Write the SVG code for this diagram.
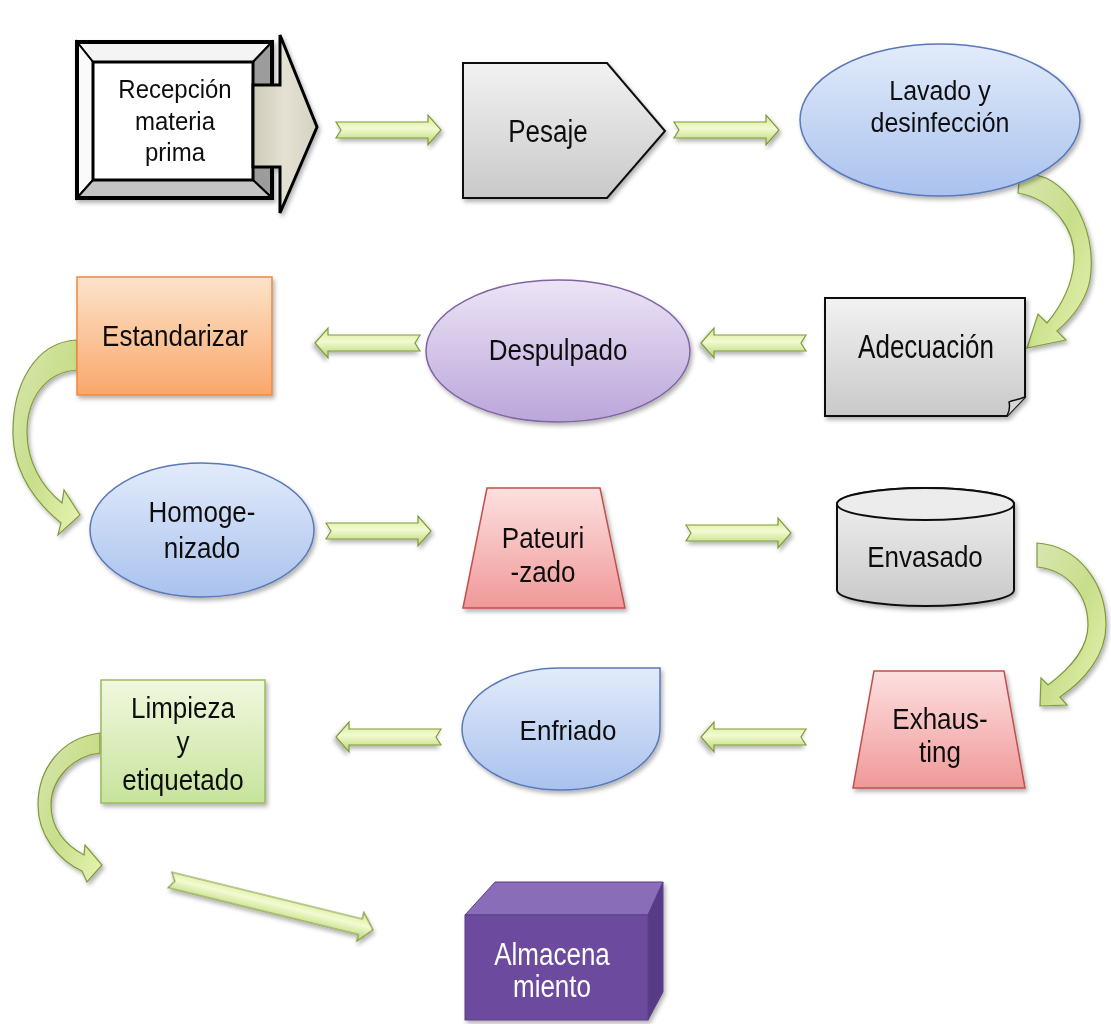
<svg xmlns="http://www.w3.org/2000/svg" width="1111" height="1024" viewBox="0 0 1111 1024">
<defs>
<style>
text{font-family:"Liberation Sans",Arial,sans-serif;font-size:26px;fill:#111;text-anchor:middle}
.ar{fill:url(#gArr);stroke:#7f9a3c;stroke-width:1.2;filter:url(#sh)}
.car{fill:url(#gCurve);stroke:#7f9a3c;stroke-width:1.2;filter:url(#sh)}
.nd{filter:url(#sh)}
</style>
<linearGradient id="gArr" x1="0" y1="0" x2="0" y2="1"><stop offset="0" stop-color="#d4ea8c"/><stop offset="0.45" stop-color="#f2fad2"/><stop offset="1" stop-color="#b7d56a"/></linearGradient>
<linearGradient id="gCurve" x1="0" y1="0" x2="1" y2="1"><stop offset="0" stop-color="#d8e6b0"/><stop offset="0.5" stop-color="#c8de8a"/><stop offset="1" stop-color="#e6f4b2"/></linearGradient>
<linearGradient id="gGray" x1="0" y1="0" x2="0" y2="1"><stop offset="0" stop-color="#f2f2f2"/><stop offset="1" stop-color="#c9c9c9"/></linearGradient>
<linearGradient id="gBlue" x1="0" y1="0" x2="0" y2="1"><stop offset="0" stop-color="#e2ebfa"/><stop offset="1" stop-color="#a9c2ee"/></linearGradient>
<linearGradient id="gPurple" x1="0" y1="0" x2="0" y2="1"><stop offset="0" stop-color="#ece4f6"/><stop offset="1" stop-color="#bba6da"/></linearGradient>
<linearGradient id="gOrange" x1="0" y1="0" x2="0" y2="1"><stop offset="0" stop-color="#fde3ca"/><stop offset="1" stop-color="#f9a76b"/></linearGradient>
<linearGradient id="gPink" x1="0" y1="0" x2="0" y2="1"><stop offset="0" stop-color="#fde0e0"/><stop offset="1" stop-color="#f09898"/></linearGradient>
<linearGradient id="gGreen" x1="0" y1="0" x2="0" y2="1"><stop offset="0" stop-color="#f1f8de"/><stop offset="1" stop-color="#c7e39c"/></linearGradient>
<linearGradient id="gBeige" x1="0" y1="0" x2="1" y2="0"><stop offset="0" stop-color="#cfcbb8"/><stop offset="0.5" stop-color="#e4e1d4"/><stop offset="1" stop-color="#d6d2c2"/></linearGradient>
<filter id="sh" x="-20%" y="-20%" width="140%" height="140%"><feDropShadow dx="2" dy="3" stdDeviation="2.2" flood-color="#000" flood-opacity="0.3"/></filter>
</defs>

<g id="connectors">
<path class="ar" transform="translate(336,130)" d="M0,-8 L92,-8 L92,-15 L105,0 L92,15 L92,8 L0,8 L5,0 Z"/>
<path class="ar" transform="translate(674,130)" d="M0,-8 L92,-8 L92,-15 L105,0 L92,15 L92,8 L0,8 L5,0 Z"/>
<path class="ar" transform="translate(806,343) scale(-1,1)" d="M0,-8 L92,-8 L92,-15 L105,0 L92,15 L92,8 L0,8 L5,0 Z"/>
<path class="ar" transform="translate(420,343) scale(-1,1)" d="M0,-8 L92,-8 L92,-15 L105,0 L92,15 L92,8 L0,8 L5,0 Z"/>
<path class="ar" transform="translate(326,531)" d="M0,-8 L92,-8 L92,-15 L105,0 L92,15 L92,8 L0,8 L5,0 Z"/>
<path class="ar" transform="translate(686,533)" d="M0,-8 L92,-8 L92,-15 L105,0 L92,15 L92,8 L0,8 L5,0 Z"/>
<path class="ar" transform="translate(806,737) scale(-1,1)" d="M0,-8 L92,-8 L92,-15 L105,0 L92,15 L92,8 L0,8 L5,0 Z"/>
<path class="ar" transform="translate(441,737) scale(-1,1)" d="M0,-8 L92,-8 L92,-15 L105,0 L92,15 L92,8 L0,8 L5,0 Z"/>
<path class="ar" transform="translate(170,880) rotate(13.8)" d="M0,-8 L196,-8 L196,-15 L209,0 L196,15 L196,8 L0,8 L5,0 Z"/>
<path class="car" d="M1020,170 L1046,178 C1080,195 1096,240 1090,280 C1086,300 1072,318 1057,331 L1066,340 L1027,348 L1038,314 L1047,323 C1062,305 1072,285 1074,262 C1076,230 1055,200 1018,193 Z"/>
<path class="car" d="M77,340 C35,342 12,385 13,435 C14,472 33,500 61,523 L58,535 L80,515 L64,490 L62,503 C42,487 27,462 27,432 C27,398 46,372 77,370 Z"/>
<path class="car" d="M1037,543 C1080,546 1106,585 1106,625 C1106,655 1085,680 1060,697 L1067,705 L1040,706 L1041,678 L1048,685 C1072,667 1088,648 1088,625 C1088,595 1068,570 1037,567 Z"/>
<path class="car" d="M100,733 C60,738 38,770 38,805 C38,835 58,860 82,871 L87,882 L102,865 L85,845 L84,855 C65,845 51,828 51,805 C51,780 72,756 100,753 Z"/>
</g>

<g id="n1" class="nd">
<rect x="77" y="42" width="195" height="156" fill="#fff"/>
<polygon points="77,42 272,42 253,62 93,62" fill="#f4f4f4" stroke="#000" stroke-width="2"/>
<polygon points="77,42 93,62 93,180 77,198" fill="#fafafa" stroke="#000" stroke-width="2"/>
<polygon points="272,42 272,198 253,180 253,62" fill="#9c9c9c" stroke="#000" stroke-width="2"/>
<polygon points="77,198 272,198 253,180 93,180" fill="#c4c4c4" stroke="#000" stroke-width="2"/>
<rect x="77" y="42" width="195" height="156" fill="none" stroke="#000" stroke-width="4"/>
<rect x="93" y="62" width="160" height="118" fill="#fff" stroke="#000" stroke-width="3"/>
<path d="M253,85 L280,85 L280,35 L317,127 L280,213 L280,167 L253,167 Z" fill="url(#gBeige)" stroke="#000" stroke-width="3" stroke-linejoin="miter"/>
<text transform="translate(175,98) scale(1,1.1)" style="font-size:24px">Recepción</text>
<text transform="translate(175,130) scale(1,1.1)" style="font-size:24px">materia</text>
<text transform="translate(175,161) scale(1,1.1)" style="font-size:24px">prima</text>
</g>

<g id="n2" class="nd">
<polygon points="463,63 607,63 665,131 607,198 463,198" fill="url(#gGray)" stroke="#111" stroke-width="2"/>
<text transform="translate(548,142) scale(1,1.2)">Pesaje</text>
</g>

<g id="n3" class="nd">
<ellipse cx="940" cy="120" rx="140" ry="76" fill="url(#gBlue)" stroke="#5a78b8" stroke-width="1.5"/>
<text transform="translate(940,100) scale(1,1.12)" style="font-size:25px">Lavado y</text>
<text transform="translate(940,132) scale(1,1.12)" style="font-size:25px">desinfección</text>
</g>

<g id="n4" class="nd">
<path d="M825,298 H1025 V397 L1007,416 H825 Z" fill="url(#gGray)" stroke="#111" stroke-width="2"/>
<path d="M1025,397 C1018,400 1012,400 1009,402 C1010,406 1009,412 1007,416" fill="#d8d8d8" stroke="#111" stroke-width="1.5"/>
<text transform="translate(926,358) scale(1,1.25)">Adecuación</text>
</g>

<g id="n5" class="nd">
<ellipse cx="558" cy="351" rx="132" ry="71" fill="url(#gPurple)" stroke="#8064a2" stroke-width="1.5"/>
<text transform="translate(558,360) scale(1,1.15)">Despulpado</text>
</g>

<g id="n6" class="nd">
<rect x="77" y="277" width="195" height="118" fill="url(#gOrange)" stroke="#f0893c" stroke-width="1.5"/>
<text transform="translate(175,346) scale(1,1.15)">Estandarizar</text>
</g>

<g id="n7" class="nd">
<ellipse cx="202" cy="530" rx="112" ry="67" fill="url(#gBlue)" stroke="#5a78b8" stroke-width="1.5"/>
<text transform="translate(202,522) scale(1,1.15)">Homoge-</text>
<text transform="translate(202,558) scale(1,1.15)">nizado</text>
</g>

<g id="n8" class="nd">
<polygon points="487,488 600,488 625,608 463,608" fill="url(#gPink)" stroke="#c0504d" stroke-width="1.5"/>
<text transform="translate(543,548) scale(1,1.12)">Pateuri</text>
<text transform="translate(543,582) scale(1,1.12)">-zado</text>
</g>

<g id="n9" class="nd">
<path d="M837,504 V590 A88.5,16 0 0 0 1014,590 V504 A88.5,16 0 0 0 837,504 Z" fill="url(#gGray)" stroke="#111" stroke-width="2"/>
<ellipse cx="925.5" cy="504" rx="88.5" ry="16" fill="#ececec" stroke="#111" stroke-width="2"/>
<text transform="translate(925,567) scale(1,1.12)">Envasado</text>
</g>

<g id="n10" class="nd">
<polygon points="874,671 1004,671 1025,788 853,788" fill="url(#gPink)" stroke="#c0504d" stroke-width="1.5"/>
<text transform="translate(940,729) scale(1,1.12)">Exhaus-</text>
<text transform="translate(940,762) scale(1,1.12)">ting</text>
</g>

<g id="n11" class="nd">
<path d="M561,668 H660 V729 A99,61 0 1 1 561,668 Z" fill="url(#gBlue)" stroke="#5a78b8" stroke-width="1.5"/>
<text transform="translate(568,740) scale(1,1.05)">Enfriado</text>
</g>

<g id="n12" class="nd">
<rect x="101" y="680" width="164" height="123" fill="url(#gGreen)" stroke="#9bbb59" stroke-width="1.5"/>
<text transform="translate(183,718) scale(1,1.12)">Limpieza</text>
<text transform="translate(183,752) scale(1,1.12)">y</text>
<text transform="translate(183,790) scale(1,1.12)">etiquetado</text>
</g>

<g id="n13" class="nd">
<polygon points="465,915 495,882 663,882 648,915" fill="#8a6db8" stroke="#5b3f8a" stroke-width="1"/>
<polygon points="648,915 663,882 663,992 648,1020" fill="#583a86" stroke="#5b3f8a" stroke-width="1"/>
<rect x="465" y="915" width="183" height="105" fill="#6c4c9e" stroke="#5b3f8a" stroke-width="1"/>
<text transform="translate(552,965) scale(1,1.2)" style="fill:#fff">Almacena</text>
<text transform="translate(552,997) scale(1,1.2)" style="fill:#fff">miento</text>
</g>
</svg>
